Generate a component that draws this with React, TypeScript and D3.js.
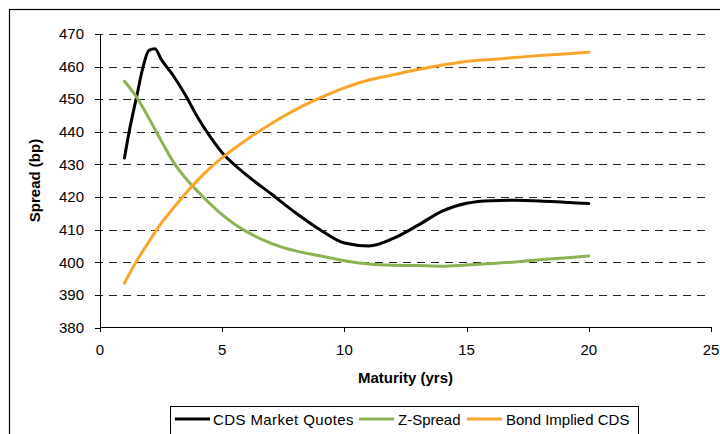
import React from "react";
import * as d3 from "d3";

const maturities = [1, 1.25, 1.5, 1.75, 2, 2.25, 2.5, 3, 3.5, 4, 4.5, 5, 5.5, 6, 7, 8, 9, 10, 11, 12, 13, 14, 15, 16, 17, 18, 19, 20];
const cdsMarketQuotes = [432, 442.2, 450.8, 459.5, 465, 465.5, 462.3, 457.2, 451.2, 444.4, 438.6, 433.6, 429.9, 426.7, 421, 415.2, 410, 405.9, 405, 407.3, 411.3, 415.7, 418.1, 418.9, 419, 418.8, 418.4, 418];

const zMaturities = [1, 1.5, 2, 2.5, 3, 3.5, 4, 4.5, 5, 5.5, 6, 7, 8, 9, 10, 11, 12, 13, 14, 15, 16, 17, 18, 19, 20];
const zSpread = [455.5, 450.6, 444.2, 437.3, 430.8, 425.8, 421.7, 418, 414.6, 411.7, 409.4, 405.8, 403.5, 402, 400.5, 399.5, 399.1, 399, 398.8, 399.2, 399.6, 400.1, 400.8, 401.3, 401.9];

const bMaturities = [1, 1.5, 2, 2.5, 3, 3.5, 4, 4.5, 5, 6, 7, 8, 9, 10, 11, 12, 13, 14, 15, 16, 17, 18, 19, 20];
const bondImpliedCDS = [393.6, 400.4, 406.3, 411.9, 416.6, 421.1, 425.2, 428.9, 432.1, 437.6, 442.5, 446.8, 450.4, 453.5, 455.9, 457.5, 459.1, 460.5, 461.6, 462.2, 462.8, 463.4, 463.9, 464.4];

const xTicks = [0, 5, 10, 15, 20, 25];
const yTicks = [380, 390, 400, 410, 420, 430, 440, 450, 460, 470];

const seriesNames = ["CDS Market Quotes", "Z-Spread", "Bond Implied CDS"];
const seriesColors = ["#000000", "#8BB352", "#F9A52B"];

const FONT = "'Liberation Sans', Arial, sans-serif";

export default function App() {
  const x = d3.scaleLinear().domain([0, 25]).range([100, 711]);
  const y = d3.scaleLinear().domain([380, 470]).range([327.5, 34]);

  const series = [
    { xs: maturities, ys: cdsMarketQuotes },
    { xs: zMaturities, ys: zSpread },
    { xs: bMaturities, ys: bondImpliedCDS },
  ];

  const line = d3
    .line<[number, number]>()
    .x((d) => x(d[0]))
    .y((d) => y(d[1]))
    .curve(d3.curveMonotoneX);

  const legendItems = [
    { lx: 175, tx: 213 },
    { lx: 359, tx: 398 },
    { lx: 467, tx: 506 },
  ];

  return (
    <svg
      width={720}
      height={434}
      style={{ position: "fixed", left: 0, top: 0, background: "#fff" }}
      fontFamily={FONT}
    >
      <rect x={0} y={0} width={720} height={434} fill="#fff" />
      <rect x={9.5} y={9.5} width={740} height={460} fill="none" stroke="#000" strokeWidth={1.2} />

      {/* gridlines */}
      {yTicks
        .filter((t) => t !== 380)
        .map((t) => (
          <line
            key={"g" + t}
            x1={95}
            x2={711}
            y1={Math.round(y(t)) + 0.5}
            y2={Math.round(y(t)) + 0.5}
            stroke="#222"
            strokeWidth={1}
            strokeDasharray="8,6"
          />
        ))}

      {/* axes */}
      <line x1={100.5} x2={100.5} y1={34} y2={327.5} stroke="#000" />
      <line x1={100} x2={711} y1={327.5} y2={327.5} stroke="#000" />
      {yTicks.map((t) => (
        <g key={"yt" + t}>
          <line x1={95} x2={100} y1={Math.round(y(t)) + 0.5} y2={Math.round(y(t)) + 0.5} stroke="#000" />
          <text x={84} y={y(t)} dy="0.35em" textAnchor="end" fontSize={15} fill="#000">
            {t}
          </text>
        </g>
      ))}
      {xTicks.map((t) => (
        <g key={"xt" + t}>
          <line x1={Math.round(x(t)) + 0.5} x2={Math.round(x(t)) + 0.5} y1={327} y2={332} stroke="#000" />
          <text x={x(t)} y={355} textAnchor="middle" fontSize={15} fill="#000">
            {t}
          </text>
        </g>
      ))}

      <text x={405.5} y={383} textAnchor="middle" fontSize={15} fontWeight="bold" fill="#000">
        Maturity (yrs)
      </text>
      <text
        transform="translate(40,180.5) rotate(-90)"
        textAnchor="middle"
        fontSize={15}
        fontWeight="bold"
        fill="#000"
      >
        Spread (bp)
      </text>

      {/* series */}
      {series.map((s, i) => (
        <path
          key={"s" + i}
          d={line(s.xs.map((v, j) => [v, s.ys[j]] as [number, number])) || ""}
          fill="none"
          stroke={seriesColors[i]}
          strokeWidth={3}
          strokeLinejoin="round"
          strokeLinecap="round"
        />
      ))}

      {/* legend */}
      <rect x={170.5} y={406.5} width={468} height={40} fill="#fff" stroke="#000" strokeWidth={1} />
      {seriesNames.map((n, i) => (
        <g key={"l" + i}>
          <line x1={legendItems[i].lx} x2={legendItems[i].lx + 35} y1={419} y2={419} stroke={seriesColors[i]} strokeWidth={3} />
          <text x={legendItems[i].tx} y={424.5} fontSize={15} fill="#000" letterSpacing={i === 0 ? 0.4 : 0}>
            {n}
          </text>
        </g>
      ))}
    </svg>
  );
}
